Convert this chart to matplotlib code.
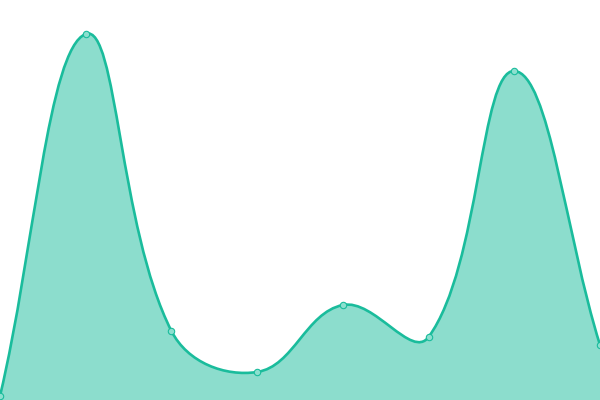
import matplotlib
matplotlib.use("Agg")
import matplotlib.pyplot as plt
import numpy as np
from matplotlib.path import Path
from matplotlib.patches import PathPatch

categories = ["A", "B", "C", "D", "E", "F", "G", "H"]
values = [4, 366, 69, 28, 95, 63, 329, 55]

LINE = "#1abc9c"
FILL = (26/255, 188/255, 156/255, 0.5)
TENSION = 0.4

fig = plt.figure(figsize=(6, 4), dpi=100)
ax = fig.add_axes([0, 0, 1, 1])
ax.set_xlim(0, len(categories) - 1)
ax.set_ylim(0, 400)
ax.axis("off")

xs = np.arange(len(categories), dtype=float)
ys = np.array(values, dtype=float)
pts = ax.transData.transform(np.column_stack([xs, ys]))

n = len(pts)
cps_prev = np.zeros_like(pts)
cps_next = np.zeros_like(pts)
for i in range(n):
    cur = pts[i]
    prev = pts[i - 1] if i > 0 else cur
    nxt = pts[i + 1] if i < n - 1 else cur
    d01 = np.hypot(*(cur - prev))
    d12 = np.hypot(*(nxt - cur))
    tot = d01 + d12
    s01 = d01 / tot if tot else 0
    s12 = d12 / tot if tot else 0
    fa = TENSION * s01
    fb = TENSION * s12
    cps_prev[i] = cur - fa * (nxt - prev)
    cps_next[i] = cur + fb * (nxt - prev)

verts = [pts[0]]
codes = [Path.MOVETO]
for i in range(n - 1):
    verts += [cps_next[i], cps_prev[i + 1], pts[i + 1]]
    codes += [Path.CURVE4] * 3
inv = ax.transData.inverted()
verts_data = inv.transform(np.array(verts))

line_path = Path(verts_data, codes)
fill_verts = list(verts_data) + [[xs[-1], 0], [xs[0], 0], verts_data[0]]
fill_codes = codes + [Path.LINETO, Path.LINETO, Path.CLOSEPOLY]
fill_path = Path(fill_verts, fill_codes)

ax.add_patch(PathPatch(fill_path, facecolor=FILL, edgecolor="none", zorder=1))
ax.add_patch(PathPatch(line_path, facecolor="none", edgecolor=LINE, linewidth=1.9, zorder=2))
ax.plot(xs, ys, linestyle="none", marker="o", markersize=4.6,
        markerfacecolor="#8ce0cf", markeredgecolor=LINE, markeredgewidth=0.8, zorder=3)

fig.savefig("out.png", dpi=100)
